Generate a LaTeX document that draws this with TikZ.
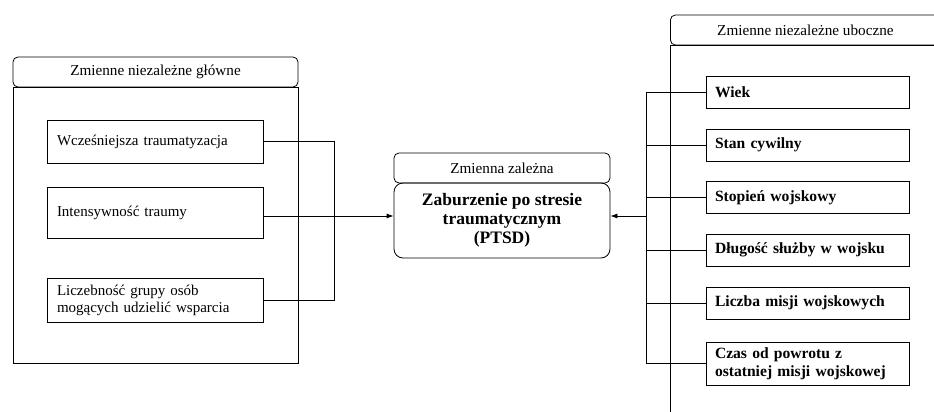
\documentclass[tikz,border=0pt]{standalone}
\usepackage{fontspec}
\setmainfont{Liberation Serif}
\usetikzlibrary{arrows.meta,positioning}

\begin{document}
\begin{tikzpicture}[x=1pt,y=1pt,yscale=-1,
	hdr/.style={draw, rounded corners=5pt, line width=0.8pt, minimum height=30pt, inner sep=0pt, font=\fontsize{15.2}{17}\selectfont},
	frame/.style={draw, line width=0.8pt},
	varbox/.style={draw, line width=0.8pt, text width=196pt, align=left, inner xsep=10pt, inner ysep=4pt, font=\fontsize{15}{17}\selectfont},
	sidebox/.style={draw, line width=0.8pt, text width=185pt, align=left, inner xsep=9pt, inner ysep=4pt, font=\bfseries\fontsize{15.6}{17.5}\selectfont},
	conn/.style={line width=0.8pt},
	tip/.style={-{Latex[length=7pt,width=5pt]}}]
	\useasboundingbox (0,0) rectangle (934,412);
	\clip (0,0) rectangle (934,412);
	
	% main independent variables
	\draw [frame] (13,87) rectangle (298,363);
	\node [hdr, minimum width=285pt] (hdrL) at (155.5,72) {Zmienne niezależne główne};
	\node [varbox, minimum height=43pt] (b1) at (155,141.5) {Wcześniejsza traumatyzacja};
	\node [varbox, minimum height=51pt] (b2) at (155,213) {Intensywność traumy};
	\node [varbox, minimum height=44pt] (b3) at (155,300) {Liczebność grupy osób\\mogących udzielić wsparcia};
	
	% dependent variable
	\node [hdr, minimum width=216pt] (hdrC) at (502,168) {Zmienna zależna};
	\node [draw, line width=0.8pt, rounded corners=9pt, minimum width=216pt, minimum height=75pt, align=center, font=\bfseries\fontsize{17.5}{19}\selectfont] (ptsd) at (502,220.5) {Zaburzenie po stresie\\traumatycznym\\(PTSD)};
	
	% side independent variables
	\draw [frame] (670,45) rectangle (960,430);
	\node [hdr, minimum width=290pt, anchor=west] (hdrR) at (670,30) {\hspace*{-20pt}Zmienne niezależne uboczne};
	\node [sidebox, minimum height=32pt] (s1) at (807.5,92) {Wiek};
	\node [sidebox, minimum height=32pt] (s2) at (807.5,145) {Stan cywilny};
	\node [sidebox, minimum height=32pt] (s3) at (807.5,197.5) {Stopień wojskowy};
	\node [sidebox, minimum height=32pt] (s4) at (807.5,250) {Długość służby w wojsku};
	\node [sidebox, minimum height=32pt] (s5) at (807.5,303) {Liczba misji wojskowych};
	\node [sidebox, minimum height=43pt] (s6) at (807.5,363.5) {Czas od powrotu z\\ostatniej misji wojskowej};
	
	% connectors
	\coordinate (busL) at (334,216);
	\coordinate (busR) at (646,216);
	\draw [conn] (b1.east) -| (busL);
	\draw [conn] (b3.east) -| (busL);
	\draw [conn, tip] (b2.east |- busL) -- (busL -| ptsd.west);
	\draw [conn] (s1.west) -| (busR);
	\draw [conn] (s6.west) -| (busR);
	\foreach \n in {s2,s3,s4,s5}
		\draw [conn] (\n.west) -- (\n.west -| busR);
	\draw [conn, tip] (busR) -- (busR -| ptsd.east);
\end{tikzpicture}
\end{document}
